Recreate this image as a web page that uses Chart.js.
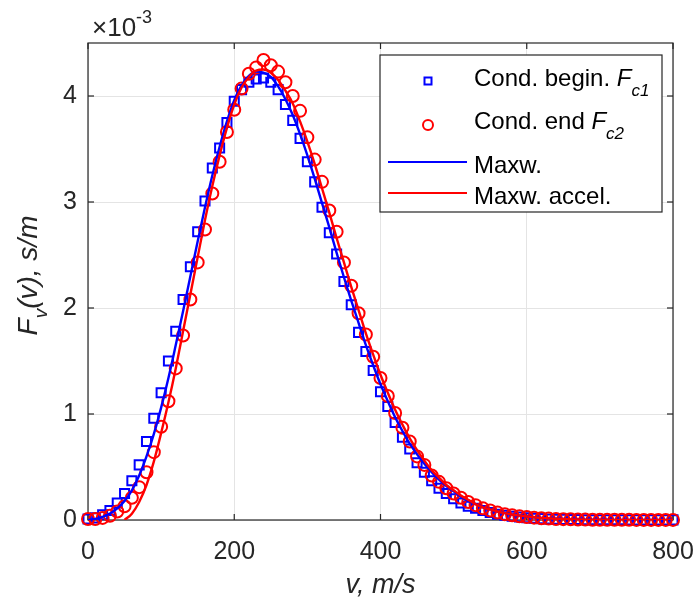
<!DOCTYPE html>
<html>
<head>
<meta charset="utf-8">
<script src="https://cdn.jsdelivr.net/npm/chart.js@4.4.0/dist/chart.umd.min.js"></script>
<style>
  html,body{margin:0;padding:0;background:#fff}
  #c{display:block}
</style>
</head>
<body>
<canvas id="c" width="697" height="605"></canvas>
<script>
/* speed grid, m/s */
const V = [
  0,10,20,30,40,50,60,70,80,90,
  100,110,120,130,140,150,160,170,180,190,
  200,210,220,230,240,250,260,270,280,290,
  300,310,320,330,340,350,360,370,380,390,
  400,410,420,430,440,450,460,470,480,490,
  500,510,520,530,540,550,560,570,580,590,
  600,610,620,630,640,650,660,670,680,690,
  700,710,720,730,740,750,760,770,780,790,
  800];

/* values in units of 1e-3 s/m (axis shows x10^-3) */
const FC1 = [            // Cond. begin. (squares)
  0.01,0.02,0.05,0.09,0.16,0.25,0.37,0.52,0.74,0.96,
  1.20,1.50,1.78,2.08,2.39,2.72,3.01,3.32,3.51,3.75,
  3.95,4.06,4.13,4.16,4.17,4.13,4.06,3.92,3.77,3.60,
  3.38,3.19,2.95,2.71,2.51,2.25,2.03,1.77,1.59,1.41,
  1.21,1.07,0.92,0.78,0.67,0.54,0.45,0.37,0.30,0.25,
  0.20,0.16,0.13,0.11,0.09,0.07,0.055,0.045,0.035,0.028,
  0.022,0.017,0.013,0.010,0.008,0.006,0.005,0.004,0.003,0.003,
  0.002,0.002,0.002,0.002,0.001,0.001,0.001,0.001,0.001,0.001,
  0.001];
const FC2 = [            // Cond. end (circles)
  0.01,0.01,0.02,0.04,0.08,0.13,0.21,0.31,0.45,0.64,
  0.88,1.12,1.43,1.74,2.08,2.43,2.74,3.08,3.38,3.66,
  3.87,4.07,4.21,4.27,4.34,4.29,4.23,4.13,4.00,3.86,
  3.61,3.40,3.19,2.92,2.72,2.43,2.21,1.95,1.75,1.54,
  1.34,1.17,1.01,0.87,0.74,0.60,0.52,0.42,0.36,0.30,
  0.25,0.21,0.17,0.14,0.11,0.09,0.07,0.055,0.045,0.035,
  0.028,0.022,0.017,0.013,0.010,0.008,0.006,0.005,0.004,0.003,
  0.003,0.002,0.002,0.002,0.002,0.001,0.001,0.001,0.001,0.001,
  0.001];
const MAXW = [           // Maxw. (blue line)
  0.00,0.01,0.03,0.06,0.11,0.18,0.28,0.42,0.60,0.81,
  1.06,1.34,1.65,1.97,2.30,2.63,2.95,3.25,3.52,3.76,
  3.96,4.10,4.19,4.23,4.22,4.18,4.09,3.97,3.82,3.64,
  3.44,3.22,2.99,2.76,2.52,2.29,2.07,1.86,1.65,1.46,
  1.28,1.12,0.97,0.84,0.72,0.62,0.53,0.45,0.38,0.32,
  0.27,0.22,0.18,0.15,0.12,0.10,0.08,0.065,0.052,0.042,
  0.033,0.026,0.020,0.016,0.012,0.009,0.007,0.005,0.004,0.003,
  0.002,0.002,0.001,0.001,0.001,0.001,0.000,0.000,0.000,0.000,
  0.000];
const MAXW_ACC = [       // Maxw. accel. (red line), starts near 50 m/s
  null,null,null,null,null,0.00,0.06,0.17,0.33,0.55,
  0.82,1.11,1.43,1.78,2.13,2.48,2.83,3.15,3.44,3.70,
  3.92,4.08,4.18,4.24,4.25,4.22,4.15,4.05,3.93,3.76,
  3.57,3.36,3.13,2.90,2.66,2.43,2.20,1.98,1.76,1.56,
  1.37,1.20,1.04,0.90,0.77,0.66,0.56,0.47,0.40,0.33,
  0.28,0.23,0.19,0.15,0.12,0.10,0.08,0.065,0.052,0.042,
  0.033,0.026,0.020,0.016,0.012,0.009,0.007,0.005,0.004,0.003,
  0.002,0.002,0.001,0.001,0.001,0.001,0.000,0.000,0.000,0.000,
  0.000];

const X_TICKS = [0,200,400,600,800];
const Y_TICKS = [0,1,2,3,4];

const INK  = '#262626';
const GRID = '#e4e4e4';
const FAM  = '"Liberation Sans", Arial, Helvetica, sans-serif';
const font = (size, italic) => `${italic ? 'italic ' : ''}${size}px ${FAM}`;

const pts = arr => V.map((v,i)=>({x:v, y:arr[i]}));

/* draw a run of text pieces: [{t, size, it, dy}] */
function richWidth(ctx, parts){
  return parts.reduce((w,p)=>{ ctx.font = font(p.size,p.it); return w + ctx.measureText(p.t).width; }, 0);
}
function drawRich(ctx, parts, x, y){
  let cx = x;
  parts.forEach(p=>{
    ctx.font = font(p.size,p.it);
    ctx.fillText(p.t, cx, y + (p.dy||0));
    cx += ctx.measureText(p.t).width;
  });
}

function line(ctx,x1,y1,x2,y2){ ctx.beginPath(); ctx.moveTo(x1,y1); ctx.lineTo(x2,y2); ctx.stroke(); }

const decor = {
  id:'decor',
  beforeDatasetsDraw(chart){
    const {ctx, chartArea:a, scales:{x,y}} = chart;
    ctx.save();
    ctx.strokeStyle = INK; ctx.lineWidth = 1.2;
    ctx.strokeRect(a.left, a.top, a.right-a.left, a.bottom-a.top);
    // inward ticks, all four sides
    x.ticks.forEach(t=>{
      const p = x.getPixelForValue(t.value);
      line(ctx,p,a.bottom,p,a.bottom-6); line(ctx,p,a.top,p,a.top+6);
    });
    y.ticks.forEach(t=>{
      const p = y.getPixelForValue(t.value);
      line(ctx,a.left,p,a.left+6,p); line(ctx,a.right,p,a.right-6,p);
    });
    ctx.restore();
  },
  afterDraw(chart){
    const {ctx, chartArea:a} = chart;
    ctx.save();
    ctx.fillStyle = INK;
    ctx.textBaseline = 'alphabetic';
    ctx.textAlign = 'left';

    // exponent  x10^-3
    drawRich(ctx, [{t:'\u00D7',size:26},{t:'10',size:26},{t:'-3',size:18,dy:-13}], a.left+4, 36);

    // x title
    const xt = [{t:'v, m/s',size:27,it:true}];
    drawRich(ctx, xt, (a.left+a.right)/2 - richWidth(ctx,xt)/2, 593);

    // y title (rotated)
    const yt = [{t:'F',size:28,it:true},{t:'v',size:19,it:true,dy:10},{t:'(v), s/m',size:28,it:true}];
    ctx.save();
    ctx.translate(37, (a.top+a.bottom)/2 - 6);
    ctx.rotate(-Math.PI/2);
    drawRich(ctx, yt, -richWidth(ctx,yt)/2, 0);
    ctx.restore();

    // legend box
    const L = {x:380, y:55, w:282, h:157};
    ctx.fillStyle = '#fff';
    ctx.fillRect(L.x, L.y, L.w, L.h);
    ctx.strokeStyle = INK; ctx.lineWidth = 1.2;
    ctx.strokeRect(L.x, L.y, L.w, L.h);

    ctx.lineWidth = 2;
    ctx.strokeStyle = '#0000ff';
    ctx.strokeRect(428-3.5, 81-3.5, 7, 7);
    ctx.strokeStyle = '#ff0000';
    ctx.beginPath(); ctx.arc(428, 125, 5, 0, Math.PI*2); ctx.stroke();
    ctx.lineWidth = 2.2;
    ctx.strokeStyle = '#0000ff'; line(ctx, 388, 162, 467, 162);
    ctx.strokeStyle = '#ff0000'; line(ctx, 388, 193, 467, 193);

    ctx.fillStyle = '#000';
    const tx = 474;
    drawRich(ctx, [{t:'Cond. begin. ',size:24},{t:'F',size:24,it:true},{t:'c1',size:17,it:true,dy:10}], tx, 86);
    drawRich(ctx, [{t:'Cond. end ',size:24},{t:'F',size:24,it:true},{t:'c2',size:17,it:true,dy:10}], tx, 129);
    drawRich(ctx, [{t:'Maxw.',size:24}], tx, 173);
    drawRich(ctx, [{t:'Maxw. accel.',size:24}], tx, 204);
    ctx.restore();
  }
};

new Chart(document.getElementById('c'), {
  type:'scatter',
  data:{datasets:[
    {label:'Maxw. accel.', data:pts(MAXW_ACC), showLine:true, borderColor:'#ff0000', backgroundColor:'#ff0000',
     borderWidth:2.4, pointRadius:0, cubicInterpolationMode:'monotone', spanGaps:false, order:0},
    {label:'Maxw.', data:pts(MAXW), showLine:true, borderColor:'#0000ff', backgroundColor:'#0000ff',
     borderWidth:2.4, pointRadius:0, cubicInterpolationMode:'monotone', order:1},
    {label:'Cond. end Fc2', data:pts(FC2), showLine:false, pointStyle:'circle', pointRadius:6,
     borderColor:'#ff0000', backgroundColor:'rgba(0,0,0,0)', pointBorderWidth:2, clip:false, order:2},
    {label:'Cond. begin. Fc1', data:pts(FC1), showLine:false, pointStyle:'rect', pointRadius:6.4,
     borderColor:'#0000ff', backgroundColor:'rgba(0,0,0,0)', pointBorderWidth:2, clip:false, order:3}
  ]},
  options:{
    responsive:false, animation:false, devicePixelRatio:1,
    layout:{padding:{top:43, right:24, left:0, bottom:0}},
    plugins:{legend:{display:false}, tooltip:{enabled:false}},
    scales:{
      x:{
        type:'linear', min:0, max:800,
        afterBuildTicks:s=>{ s.ticks = X_TICKS.map(v=>({value:v})); },
        afterFit:s=>{ s.height = 85; s.paddingLeft = 0; s.paddingRight = 0; },
        ticks:{font:{size:25, family:FAM}, color:INK, padding:17, maxRotation:0},
        grid:{color:GRID, lineWidth:1, drawTicks:false},
        border:{display:false}
      },
      y:{
        type:'linear', min:0, max:4.5,
        afterBuildTicks:s=>{ s.ticks = Y_TICKS.map(v=>({value:v})); },
        afterFit:s=>{ s.width = 88; s.paddingTop = 0; s.paddingBottom = 0; },
        ticks:{font:{size:25, family:FAM}, color:INK, padding:11},
        grid:{color:GRID, lineWidth:1, drawTicks:false},
        border:{display:false}
      }
    }
  },
  plugins:[decor]
});
</script>
</body>
</html>
